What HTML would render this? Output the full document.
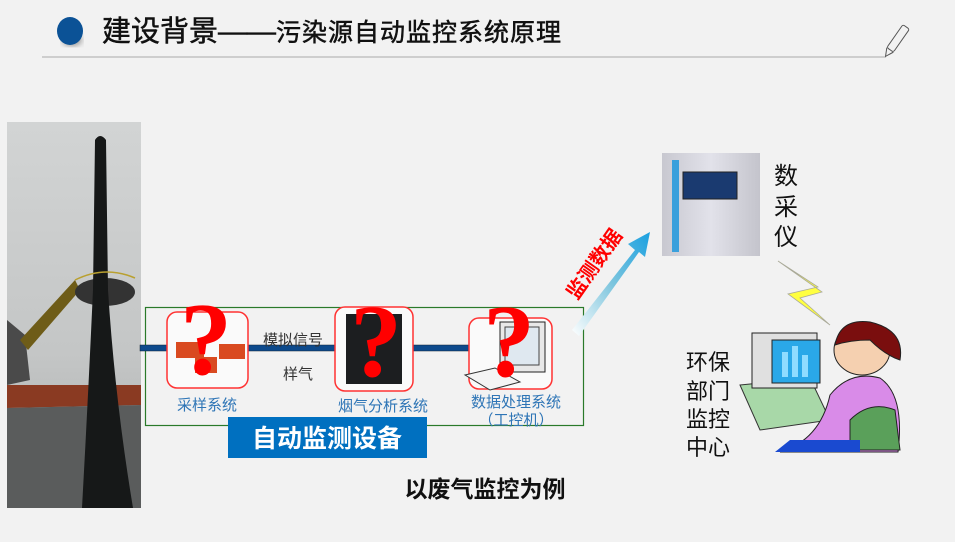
<!DOCTYPE html>
<html><head><meta charset="utf-8"><style>
body{margin:0;width:955px;height:542px;overflow:hidden;background:#f2f2f2;font-family:"Liberation Sans","Noto Sans CJK SC",sans-serif}
</style></head><body>
<svg width="955" height="542" viewBox="0 0 955 542" xmlns="http://www.w3.org/2000/svg" style="position:absolute;left:0;top:0">
<defs>
<linearGradient id="sky" x1="0" y1="0" x2="0" y2="1"><stop offset="0" stop-color="#d2d4d4"/><stop offset="0.6" stop-color="#c4c6c6"/><stop offset="1" stop-color="#a8aaaa"/></linearGradient>
<linearGradient id="arr" x1="0" y1="1" x2="1" y2="0"><stop offset="0" stop-color="#ffffff"/><stop offset="0.5" stop-color="#7fc6de"/><stop offset="1" stop-color="#1aa0e0"/></linearGradient>
<linearGradient id="dev" x1="0" y1="0" x2="1" y2="0"><stop offset="0" stop-color="#c8c8d0"/><stop offset="0.5" stop-color="#e2e2ea"/><stop offset="1" stop-color="#c4c4cc"/></linearGradient>
<filter id="sh"><feGaussianBlur stdDeviation="3"/></filter>
</defs>
<!-- header -->
<ellipse cx="72" cy="40" rx="10" ry="6" fill="#999" filter="url(#sh)"/>
<ellipse cx="70" cy="31" rx="13" ry="14" fill="#0b5296"/>
<text x="102" y="41" font-size="29" fill="#111" stroke="#111" stroke-width="0.5">建设背景——<tspan font-size="25" letter-spacing="1">污染源自动监控系统原理</tspan></text>
<line x1="42" y1="57" x2="886" y2="57" stroke="#aaa" stroke-width="1"/>
<g transform="translate(897,40) rotate(35)" fill="none" stroke="#555" stroke-width="1"><rect x="-4" y="-16" width="8" height="28" rx="2"/><path d="M-4 12 L0 20 L4 12"/></g>
<!-- photo -->
<rect x="7" y="122" width="134" height="386" fill="url(#sky)"/>
<path d="M7 320 L25 335 L30 380 L7 385Z" fill="#4a4a4a"/>
<path d="M20 340 L75 280 L80 290 L28 350Z" fill="#6e5c18"/>
<path d="M7 385 L141 385 L141 405 L7 408Z" fill="#8a3a22"/>
<path d="M7 408 L141 405 L141 508 L7 508Z" fill="#5a5c5c"/>
<ellipse cx="105" cy="292" rx="30" ry="14" fill="#333"/>
<path d="M95 140 Q100 132 106 140 L108 290 Q115 400 133 508 L82 508 Q88 400 93 290Z" fill="#161818"/>
<path d="M75 280 Q105 265 135 278" fill="none" stroke="#b9a030" stroke-width="1.5"/>
<!-- green box -->
<rect x="145.5" y="307.5" width="438" height="118" fill="none" stroke="#2a7a2a" stroke-width="1.2"/>
<rect x="140" y="345" width="330" height="6" fill="#0d4a8c" stroke="#123" stroke-width="0.5"/>
<!-- boxes -->
<rect x="167" y="312" width="81" height="76" rx="10" fill="#fafafa" stroke="#f33" stroke-width="1.5"/>
<rect x="176" y="342" width="28" height="16" fill="#d94a20"/><rect x="219" y="344" width="26" height="15" fill="#d94a20"/><rect x="195" y="357" width="22" height="16" fill="#d94a20"/>
<rect x="335" y="307" width="78" height="84" rx="10" fill="#fafafa" stroke="#f33" stroke-width="1.5"/>
<rect x="346" y="314" width="56" height="70" fill="#1c1e20"/>
<rect x="469" y="318" width="83" height="71" rx="10" fill="#fafafa" stroke="#f33" stroke-width="1.5"/>
<rect x="500" y="322" width="45" height="50" fill="#e8e8e8" stroke="#222"/><rect x="505" y="327" width="34" height="38" fill="#dfe8f0" stroke="#444"/>
<path d="M465 375 L495 368 L520 382 L490 390Z" fill="#f4f4f4" stroke="#333"/>
<g fill="#f00" font-family="Liberation Serif,serif" font-weight="bold" font-size="104">
<text x="180" y="374">?</text><text x="350" y="376">?</text><text x="483" y="376">?</text></g>
<g font-size="15" fill="#2e75b6" text-anchor="middle">
<text x="207" y="410">采样系统</text><text x="383" y="411">烟气分析系统</text><text x="516" y="407">数据处理系统</text><text x="516" y="425">（工控机）</text></g>
<g font-size="15" fill="#333"><text x="263" y="345">模拟信号</text><text x="283" y="379">样气</text></g>
<rect x="228" y="417" width="199" height="41" fill="#0070c0"/>
<text x="327" y="447" font-size="25" font-weight="bold" fill="#fff" text-anchor="middle">自动监测设备</text>
<text x="485" y="497" font-size="23" font-weight="bold" fill="#111" text-anchor="middle">以废气监控为例</text>
<!-- arrow -->
<path d="M572 330 L635 250 L628 244 L650 232 L645 257 L639 252 L579 336Z" fill="url(#arr)"/>
<text x="600" y="268" font-size="20" font-weight="bold" fill="#f00" transform="rotate(-55 600 268)" text-anchor="middle">监测数据</text>
<!-- device -->
<rect x="662" y="153" width="98" height="103" fill="url(#dev)"/>
<rect x="672" y="160" width="7" height="92" fill="#3aa0dc"/>
<rect x="683" y="172" width="54" height="27" fill="#1a3a70" stroke="#222"/>
<g font-size="24" fill="#111"><text x="774" y="184">数</text><text x="774" y="215">采</text><text x="774" y="245">仪</text></g>
<!-- lightning -->
<path d="M778 261 L818 287 L788 294 L830 325 L800 298 L822 292Z" fill="#ffff40" stroke="#aa9" stroke-width="0.8"/>
<!-- person & computer -->
<path d="M740 385 L810 378 L830 420 L760 430Z" fill="#a8d8a8" stroke="#333"/>
<rect x="752" y="333" width="65" height="55" fill="#e0e0e0" stroke="#222"/>
<rect x="772" y="340" width="48" height="43" fill="#2aa8e8" stroke="#222"/>
<rect x="782" y="352" width="6" height="25" fill="#8fdcff"/><rect x="792" y="346" width="6" height="31" fill="#8fdcff"/><rect x="802" y="355" width="6" height="22" fill="#8fdcff"/>
<ellipse cx="862" cy="350" rx="28" ry="25" fill="#f5d0b0" stroke="#222"/>
<path d="M835 345 Q840 318 870 322 Q905 330 900 360 Q885 355 870 340 Q850 340 835 345Z" fill="#7a0e0e" stroke="#222"/>
<path d="M830 395 Q850 370 880 378 Q905 395 898 452 L780 452 Q820 440 830 395Z" fill="#d98be8" stroke="#222"/>
<path d="M850 420 Q870 400 895 410 L900 450 L850 450Z" fill="#5aa05a" stroke="#222"/>
<path d="M790 440 L860 440 L860 452 L775 452Z" fill="#1a4ad0"/>
<g font-size="22" fill="#111"><text x="686" y="370">环保</text><text x="686" y="399">部门</text><text x="686" y="427">监控</text><text x="686" y="455">中心</text></g>
</svg>
</body></html>
